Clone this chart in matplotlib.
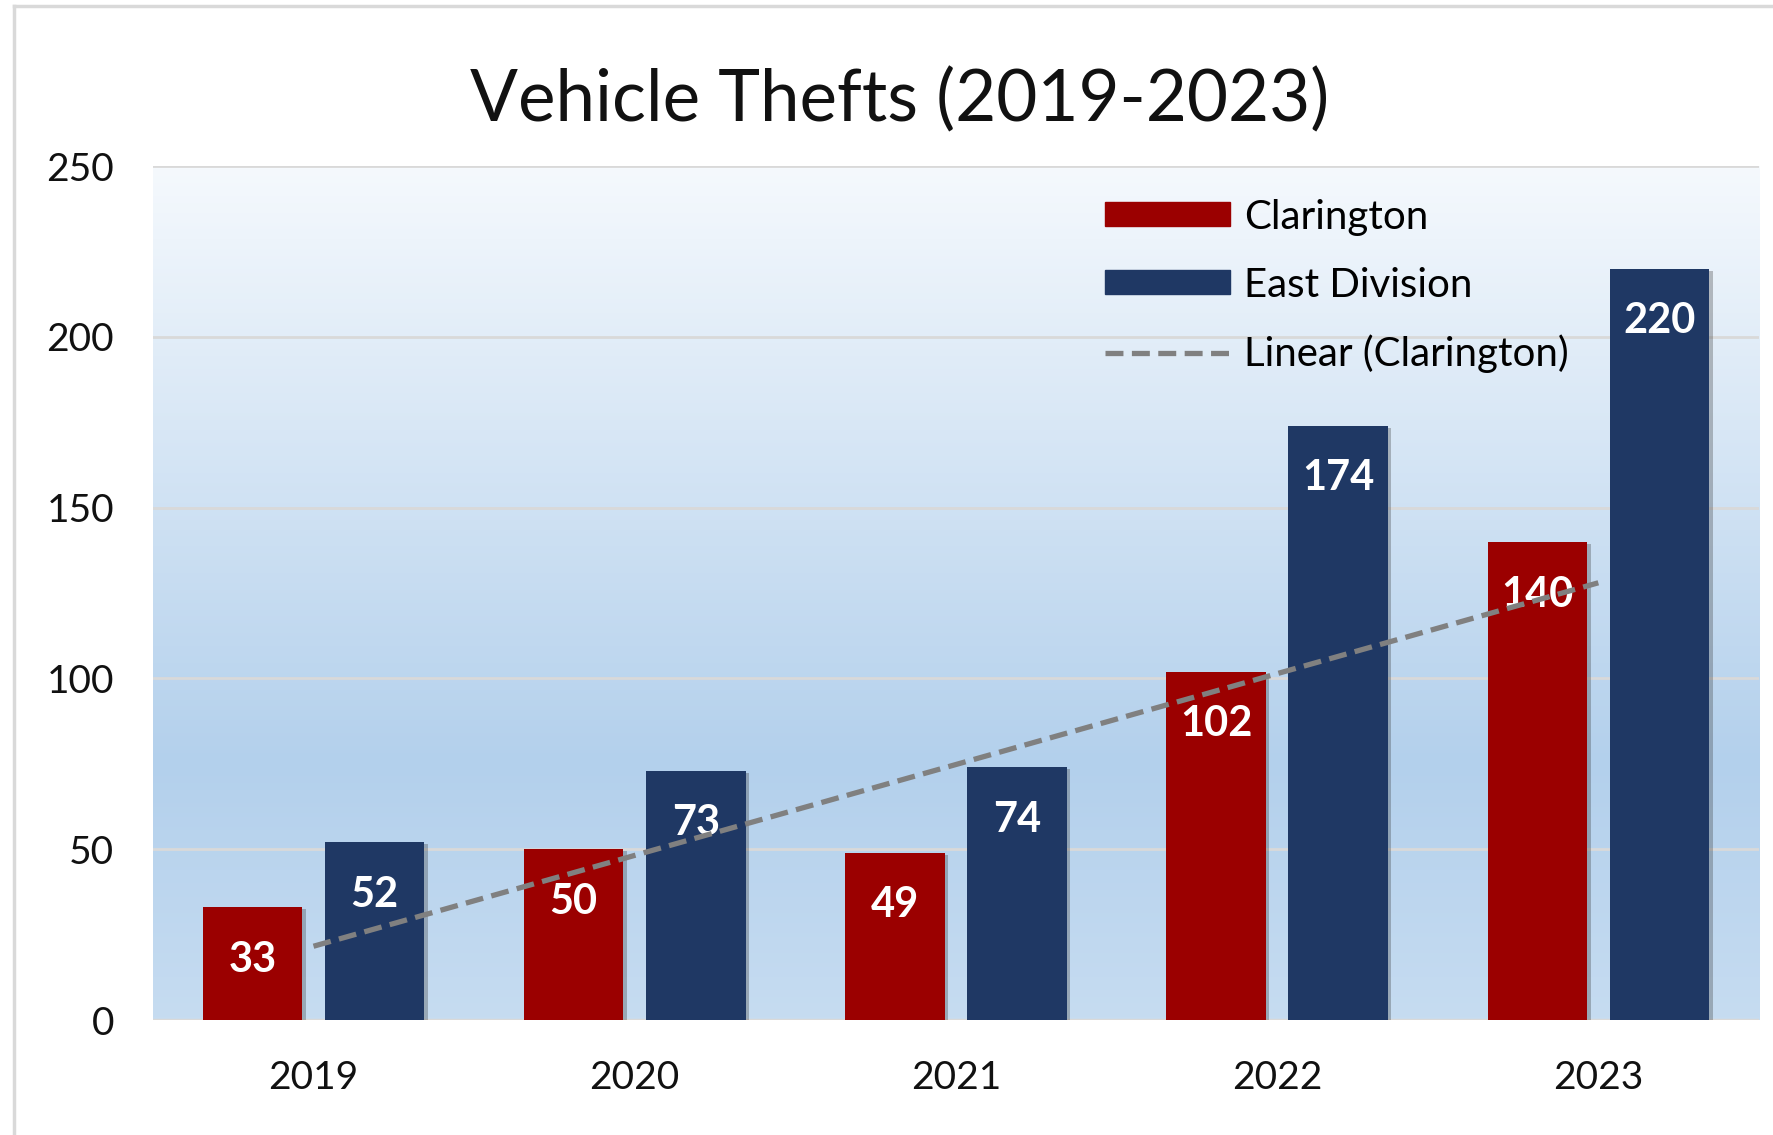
"""Vehicle thefts bar chart, Clarington vs East Division."""

import numpy as np
import matplotlib.pyplot as plt
from matplotlib.colors import LinearSegmentedColormap
from matplotlib.lines import Line2D
from matplotlib.patches import Patch
import matplotlib.patheffects as pe

years = ["2019", "2020", "2021", "2022", "2023"]
clarington = [33, 50, 49, 102, 140]
east_division = [52, 73, 74, 174, 220]
y_ticks = [0, 50, 100, 150, 200, 250]

plt.rcParams["font.family"] = ["Lato", "DejaVu Sans"]

fig = plt.figure(figsize=(17.74, 11.35), dpi=100)
ax = fig.add_axes([0.0862, 0.1013, 0.9053, 0.7524])

x = np.arange(len(years))
width = 0.31
off = 0.19

# gradient background
grad = LinearSegmentedColormap.from_list(
    "bg", [(0.0, "#c6dcf1"), (0.3, "#b3d0ec"), (1.0, "#f5f9fd")]
)
ax.imshow(np.linspace(0, 1, 256).reshape(-1, 1), cmap=grad, aspect="auto",
          extent=(-0.5, len(years) - 0.5, 0, 250), origin="lower", zorder=0)

for t in y_ticks[1:]:
    ax.axhline(t, color="#d9d9d9", lw=2, zorder=1)
ax.axhline(0, color="#d9d9d9", lw=2.5, zorder=1)

shadow = [pe.SimplePatchShadow(offset=(2.5, -1.5), alpha=0.3, shadow_rgbFace="#333333"),
          pe.Normal()]
b1 = ax.bar(x - off, clarington, width, color="#9b0000", zorder=2)
b2 = ax.bar(x + off, east_division, width, color="#1f3864", zorder=2)
for b in list(b1) + list(b2):
    b.set_path_effects(shadow)

for bars, vals in ((b1, clarington), (b2, east_division)):
    for b, v in zip(bars, vals):
        ax.annotate(str(v), (b.get_x() + b.get_width() / 2, v), xytext=(0, -38),
                    textcoords="offset points", ha="center", va="center",
                    color="white", fontsize=30, fontweight="bold", zorder=4)

# linear trend of Clarington
k, c = np.polyfit(x, clarington, 1)
trend_ls = (0, (3.4, 1.6))
ax.plot(x, k * x + c, color="#808080", lw=3.8, ls=trend_ls, zorder=5)

ax.set_xlim(-0.5, len(years) - 0.5)
ax.set_ylim(0, 250)
ax.set_xticks(x)
ax.set_xticklabels(years)
ax.set_yticks(y_ticks)
ax.tick_params(length=0, labelsize=28, colors="#111111")
ax.tick_params(axis="y", pad=28)
ax.tick_params(axis="x", pad=29)
for s in ax.spines.values():
    s.set_visible(False)

handles = [Patch(color="#9b0000"), Patch(color="#1f3864"),
           Line2D([], [], color="#808080", lw=3.8, ls=trend_ls)]
ax.legend(handles, ["Clarington", "East Division", "Linear (Clarington)"],
          loc="upper left", bbox_to_anchor=(0.593, 0.962), frameon=False,
          fontsize=29, handlelength=3.1, handleheight=0.55, labelspacing=0.77,
          handletextpad=0.35, borderpad=0, borderaxespad=0)

fig.text(0.507, 0.912, "Vehicle Thefts (2019-2023)", ha="center", va="center",
         fontsize=51, color="#111111")

# outer chart border
fig.add_artist(Line2D([14 / 1774, 14 / 1774], [0, 1 - 6 / 1135], color="#d9d9d9", lw=2.5))
fig.add_artist(Line2D([14 / 1774, 1], [1 - 6 / 1135, 1 - 6 / 1135], color="#d9d9d9", lw=2.5))

fig.savefig("out.png", dpi=100)
